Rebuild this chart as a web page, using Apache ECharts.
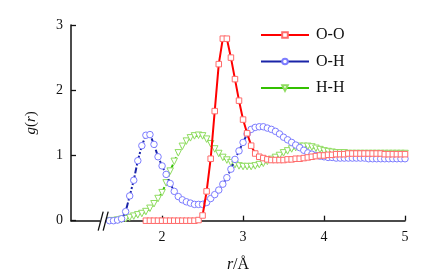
<!DOCTYPE html>
<html>
<head>
<meta charset="utf-8">
<script src="https://cdn.jsdelivr.net/npm/echarts@6/dist/echarts.min.js"></script>
<style>html,body{margin:0;padding:0;background:#fff}#c{width:436px;height:279px}</style>
</head>
<body>
<div id="c"></div>
<script>
var rValues = [1.35,1.40,1.45,1.50,1.55,1.60,1.65,1.70,1.75,1.80,1.85,1.90,1.95,2.00,2.05,2.10,2.15,2.20,2.25,2.30,2.35,2.40,2.45,2.50,2.55,2.60,2.65,2.70,2.75,2.80,2.85,2.90,2.95,3.00,3.05,3.10,3.15,3.20,3.25,3.30,3.35,3.40,3.45,3.50,3.55,3.60,3.65,3.70,3.75,3.80,3.85,3.90,3.95,4.00,4.05,4.10,4.15,4.20,4.25,4.30,4.35,4.40,4.45,4.50,4.55,4.60,4.65,4.70,4.75,4.80,4.85,4.90,4.95,5.00];
var gOO = [null,null,null,null,null,null,null,null,null,0,0,0,0,0,0,0,0,0,0,0,0,0,0.01,0.08,0.45,0.95,1.68,2.40,2.79,2.79,2.50,2.17,1.84,1.55,1.34,1.15,1.03,0.98,0.96,0.94,0.93,0.93,0.93,0.93,0.94,0.94,0.95,0.95,0.96,0.97,0.98,0.99,1.00,1.00,1.01,1.01,1.02,1.02,1.02,1.03,1.03,1.03,1.03,1.03,1.03,1.03,1.03,1.03,1.02,1.02,1.02,1.02,1.02,1.02];
var gOH = [0,0,0.01,0.03,0.14,0.38,0.62,0.92,1.15,1.31,1.32,1.17,0.98,0.84,0.71,0.57,0.45,0.37,0.32,0.29,0.27,0.25,0.25,0.25,0.28,0.34,0.40,0.47,0.56,0.66,0.79,0.94,1.07,1.20,1.33,1.40,1.43,1.44,1.44,1.42,1.40,1.37,1.33,1.28,1.24,1.20,1.16,1.12,1.08,1.04,1.02,1.00,0.99,0.98,0.97,0.97,0.96,0.96,0.96,0.96,0.96,0.96,0.96,0.96,0.95,0.95,0.95,0.95,0.95,0.95,0.95,0.95,0.95,0.95];
var gHH = [0,0,0.01,0.02,0.03,0.05,0.07,0.09,0.11,0.14,0.19,0.26,0.34,0.43,0.58,0.76,0.91,1.04,1.14,1.22,1.27,1.30,1.31,1.30,1.25,1.18,1.10,1.03,0.97,0.93,0.89,0.86,0.84,0.83,0.83,0.83,0.84,0.86,0.88,0.91,0.94,0.97,1.00,1.04,1.07,1.10,1.12,1.14,1.14,1.14,1.13,1.11,1.09,1.07,1.06,1.05,1.04,1.04,1.04,1.03,1.03,1.03,1.03,1.03,1.03,1.03,1.03,1.03,1.03,1.03,1.03,1.03,1.03,1.03];
var xTicks = [2,3,4,5];
var yTicks = [0,1,2,3];
var seriesNames = ['O-O','O-H','H-H'];

function pairs(vals){ return rValues.map(function(r,i){ return [r, vals[i]]; }); }

var font = 'Liberation Serif';
var chart = echarts.init(document.getElementById('c'), null, {renderer:'canvas'});
chart.setOption({
  animation:false,
  backgroundColor:'#fff',
  grid:{left:71, right:31, top:25, bottom:58.3, containLabel:false},
  legend:{
    orient:'vertical', left:260, top:27, padding:0,
    itemWidth:48, itemHeight:7, itemGap:10.5,
    textStyle:{fontFamily:font, fontSize:16, color:'#111', padding:[0,0,0,2]},
    lineStyle:{type:'solid'},
    data:seriesNames
  },
  xAxis:{
    type:'value', min:0.875, max:5,
    axisLine:{lineStyle:{color:'#111', width:1.5}},
    axisTick:{inside:true, length:5, lineStyle:{color:'#111', width:1.3}, customValues:xTicks},
    axisLabel:{customValues:xTicks, fontFamily:font, fontSize:14, color:'#111', margin:10},
    splitLine:{show:false},
    name:'{i|r}/Å', nameLocation:'middle', nameGap:36,
    nameTextStyle:{fontFamily:font, fontSize:16, color:'#111', rich:{i:{fontFamily:font, fontStyle:'italic', fontSize:16, color:'#111'}}}
  },
  yAxis:{
    type:'value', min:0, max:3, interval:1,
    axisLine:{show:true, lineStyle:{color:'#111', width:1.5}},
    axisTick:{show:true, inside:true, length:5, lineStyle:{color:'#111', width:1.3}},
    axisLabel:{fontFamily:font, fontSize:14, color:'#111', margin:8},
    splitLine:{show:false},
    name:'{i|g}({i|r})', nameLocation:'middle', nameGap:32, nameRotate:90,
    nameTextStyle:{fontFamily:font, fontSize:15, color:'#111', rich:{i:{fontFamily:font, fontStyle:'italic', fontSize:15, color:'#111'}}}
  },
  series:[
    {name:'O-O', type:'line', data:pairs(gOO), symbol:'rect', symbolSize:5.5,
     lineStyle:{color:'#ff0000', width:2},
     itemStyle:{color:'#fff', borderColor:'#ff6a6a', borderWidth:1}, z:4},
    {name:'O-H', type:'line', data:pairs(gOH), symbol:'circle', symbolSize:6.5,
     lineStyle:{color:'#1a24a8', width:2, type:[6,2,2,2]},
     itemStyle:{color:'#fff', borderColor:'#7d7dff', borderWidth:1}, z:3},
    {name:'H-H', type:'line', data:pairs(gHH), symbol:'triangle', symbolSize:6.5, symbolRotate:180,
     lineStyle:{color:'#33c000', width:2, type:[5,3]},
     itemStyle:{color:'#fff', borderColor:'#8fdc60', borderWidth:1}, z:2}
  ]
});

// axis break mark "//"
var p = chart.convertToPixel({xAxisIndex:0, yAxisIndex:0}, [1.26, 0]);
var cx = p[0], cy = p[1];
chart.setOption({graphic:[
  {type:'polygon', shape:{points:[[cx-3,cy+8],[cx+2,cy+8],[cx+4,cy-8],[cx-1,cy-8]]}, style:{fill:'#fff'}, z:100},
  {type:'line', shape:{x1:cx-4, y1:cy+10, x2:cx+1, y2:cy-9}, style:{stroke:'#111', lineWidth:1.3}, z:101},
  {type:'line', shape:{x1:cx+1, y1:cy+10, x2:cx+6, y2:cy-9}, style:{stroke:'#111', lineWidth:1.3}, z:101}
]});
</script>
</body>
</html>
